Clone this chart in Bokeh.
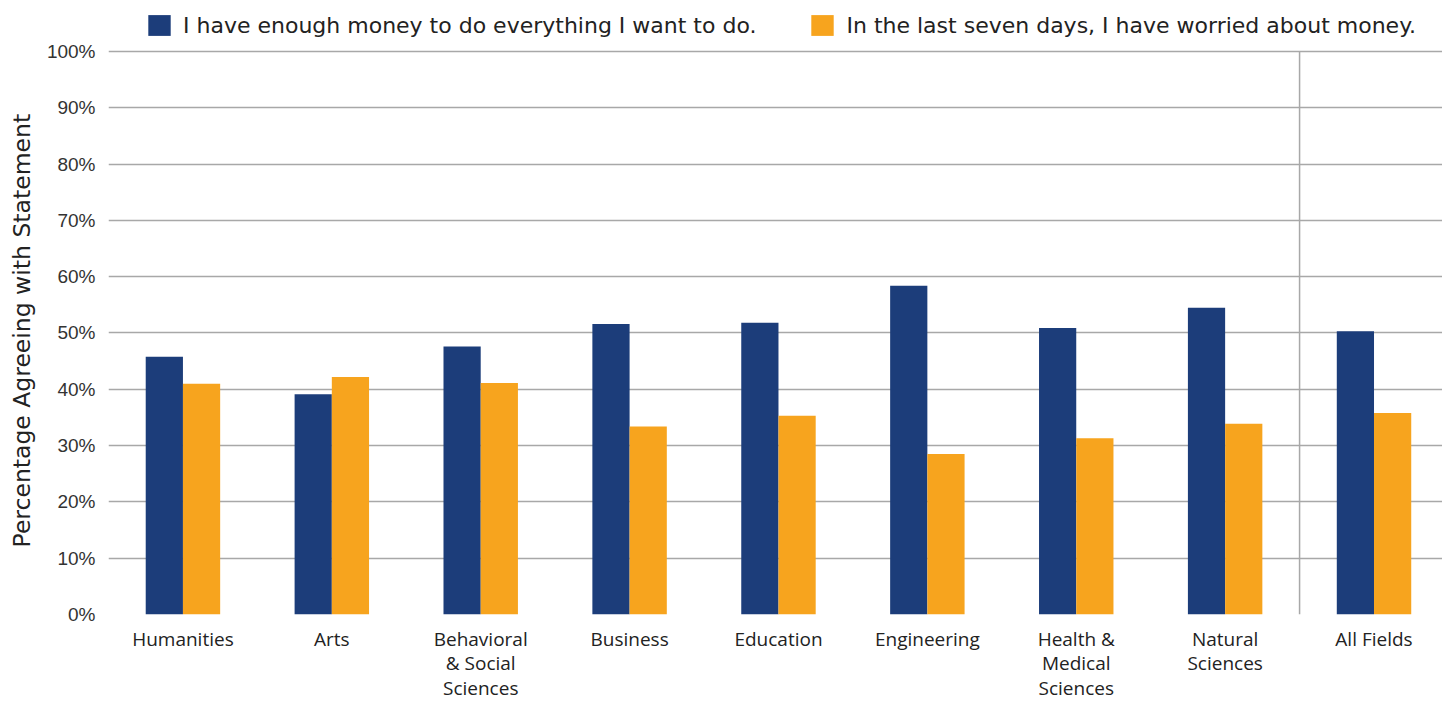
from bokeh.plotting import figure
from bokeh.models import FixedTicker, Legend, LegendItem, ColumnDataSource
from bokeh.transform import dodge
from bokeh.embed import file_html
from bokeh.resources import INLINE

categories = ["Humanities", "Arts", "Behavioral\n& Social\nSciences", "Business", "Education",
              "Engineering", "Health &\nMedical\nSciences", "Natural\nSciences", "All Fields"]
enough_money = [45.8, 39.1, 47.6, 51.6, 51.8, 58.4, 50.9, 54.5, 50.3]
worried_money = [41.0, 42.2, 41.1, 33.4, 35.3, 28.5, 31.3, 33.9, 35.8]
series_labels = ["I have enough money to do everything I want to do.",
                 "In the last seven days, I have worried about money."]
y_ticks = [0, 10, 20, 30, 40, 50, 60, 70, 80, 90, 100]
y_title = "Percentage Agreeing with Statement"

BLUE = "#1c3d7a"
ORANGE = "#f7a41e"
GRID = "#a8a8a8"

FRAME_H = 605
xs = list(range(len(categories)))
src = ColumnDataSource(dict(x=xs, a=enough_money, b=worried_money))

p = figure(frame_width=1334, frame_height=FRAME_H, output_backend="svg", toolbar_location=None,
           x_range=(-0.5, 8.46), y_range=(0, 107.46),
           min_border_left=108, min_border_right=0, min_border_top=9, min_border_bottom=40)
p.outline_line_color = None
p.background_fill_color = "white"

r1 = p.vbar(x=dodge("x", -0.125, range=p.x_range), top="a", width=0.25, source=src,
            fill_color=BLUE, line_color=None)
r2 = p.vbar(x=dodge("x", 0.125, range=p.x_range), top="b", width=0.25, source=src,
            fill_color=ORANGE, line_color=None)

# separator before "All Fields", from 0% to 100%
sep = len(categories) - 1.5
p.segment(x0=[sep], y0=[y_ticks[0]], x1=[sep], y1=[y_ticks[-1]],
          line_color=GRID, line_width=1.5)

p.xaxis.ticker = FixedTicker(ticks=xs)
p.xaxis.major_label_overrides = {i: c for i, c in enumerate(categories)}
p.xaxis.axis_line_color = None
p.xaxis.major_tick_line_color = None
p.xaxis.minor_tick_line_color = None
p.xaxis.major_label_text_font = "Open Sans"
p.xaxis.major_label_text_font_size = "19px"
p.xaxis.major_label_text_color = "#222222"
p.xaxis.major_label_standoff = 5
p.xaxis.major_label_text_line_height = 0.95

p.yaxis.ticker = FixedTicker(ticks=y_ticks)
p.yaxis.major_label_overrides = {t: f"{t}%" for t in y_ticks}
p.yaxis.axis_line_color = None
p.yaxis.major_tick_line_color = None
p.yaxis.minor_tick_line_color = None
p.yaxis.major_label_text_font = "Liberation Sans"
p.yaxis.major_label_text_font_size = "19px"
p.yaxis.major_label_text_color = "#333333"
p.yaxis.major_label_standoff = 7
# trailing no-break spaces move the centred title down to the middle of the 0-100% span
p.yaxis.axis_label = y_title + "\u00a0" * 5
p.yaxis.axis_label_text_font = "DejaVu Sans"
p.yaxis.axis_label_text_font_size = "23.5px"
p.yaxis.axis_label_text_font_style = "normal"
p.yaxis.axis_label_text_color = "#222222"
p.yaxis.axis_label_standoff = 8

p.xgrid.grid_line_color = None
p.ygrid.grid_line_color = GRID
p.ygrid.grid_line_width = 1.5

legend = Legend(items=[LegendItem(label=series_labels[0], renderers=[r1]),
                       LegendItem(label=series_labels[1], renderers=[r2])],
                orientation="horizontal", location=(37, FRAME_H - 38 + 9),
                glyph_width=28, glyph_height=26, spacing=52, label_standoff=10,
                label_text_font="DejaVu Sans", label_text_font_size="22px",
                label_text_color="#222222", border_line_color=None,
                background_fill_alpha=0, padding=0, margin=0)
p.add_layout(legend, "center")

open("out.html", "w").write(file_html(p, INLINE))
